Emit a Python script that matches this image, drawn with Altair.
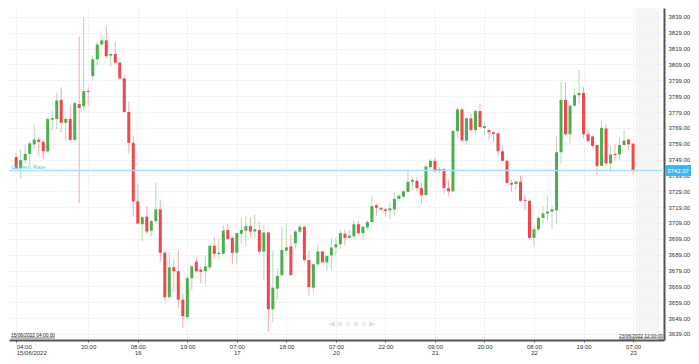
import json
import altair as alt
import pandas as pd

# ---- candle data (hourly candles, index 0..137) ----
open_ = [3750.6, 3743.6, 3748.6, 3752.6, 3758.6, 3761.6, 3760.2, 3754.2, 3774.2, 3774.6,
         3786.6, 3772.2, 3774.6, 3761.4, 3784.0, 3782.6, 3792.2, 3801.6, 3812.2, 3821.6,
         3824.2, 3814.6, 3815.6, 3810.2, 3800.2, 3779.0, 3759.6, 3722.6, 3708.2, 3713.0,
         3704.2, 3710.2, 3717.6, 3690.2, 3662.2, 3681.0, 3678.6, 3660.6, 3649.6, 3674.2,
         3684.6, 3679.6, 3678.6, 3681.0, 3694.6, 3689.4, 3689.6, 3704.6, 3699.6, 3690.2,
         3702.2, 3704.2, 3707.0, 3703.6, 3704.6, 3691.0, 3703.0, 3654.6, 3667.6, 3676.0,
         3691.6, 3694.2, 3696.2, 3703.6, 3706.6, 3685.6, 3668.2, 3683.0, 3691.0, 3684.2,
         3688.6, 3693.6, 3695.6, 3702.2, 3699.6, 3700.6, 3708.2, 3702.6, 3706.2, 3709.6,
         3720.2, 3718.6, 3717.6, 3717.0, 3717.6, 3724.2, 3725.6, 3728.6, 3735.0, 3735.6,
         3731.0, 3726.6, 3744.2, 3748.2, 3742.0, 3743.0, 3731.0, 3729.0, 3767.0, 3780.6,
         3761.0, 3775.0, 3767.6, 3779.6, 3769.0, 3767.6, 3766.2, 3765.6, 3754.2, 3748.2,
         3734.2, 3733.6, 3735.0, 3723.6, 3723.0, 3699.6, 3705.0, 3712.2, 3715.0, 3716.2,
         3717.0, 3753.6, 3786.6, 3765.0, 3783.0, 3789.6, 3791.0, 3765.0, 3763.6, 3758.2,
         3745.0, 3768.6, 3746.6, 3752.6, 3752.2, 3758.2, 3761.6, 3759.0]
high = [3753.0, 3755.6, 3758.2, 3760.6, 3771.0, 3763.0, 3761.6, 3775.6, 3780.2, 3791.2,
        3794.6, 3775.6, 3783.6, 3785.4, 3826.6, 3839.0, 3795.0, 3814.6, 3823.0, 3827.0,
        3833.6, 3816.6, 3823.0, 3811.0, 3801.6, 3785.6, 3763.6, 3733.6, 3713.6, 3719.6,
        3711.0, 3734.2, 3723.6, 3691.6, 3690.6, 3685.6, 3691.6, 3664.6, 3676.6, 3682.6,
        3686.6, 3681.6, 3688.6, 3695.6, 3700.2, 3699.0, 3707.6, 3708.2, 3700.6, 3703.0,
        3712.6, 3713.6, 3712.6, 3714.2, 3709.6, 3708.0, 3703.6, 3691.6, 3680.6, 3706.6,
        3709.0, 3701.6, 3704.6, 3708.0, 3707.0, 3691.6, 3683.6, 3695.6, 3691.6, 3688.6,
        3699.6, 3699.6, 3704.6, 3704.6, 3705.0, 3710.6, 3710.2, 3707.6, 3710.6, 3726.2,
        3721.6, 3719.0, 3718.2, 3722.6, 3728.6, 3727.0, 3729.6, 3742.6, 3737.6, 3737.6,
        3734.6, 3747.0, 3749.6, 3750.2, 3744.2, 3743.6, 3736.6, 3767.6, 3782.2, 3781.6,
        3775.6, 3778.2, 3780.6, 3784.6, 3772.2, 3768.6, 3767.0, 3766.2, 3757.0, 3749.0,
        3736.2, 3736.2, 3739.0, 3727.0, 3723.6, 3707.0, 3713.0, 3719.6, 3725.6, 3720.6,
        3763.0, 3798.2, 3797.6, 3783.6, 3793.6, 3805.6, 3795.0, 3768.2, 3764.2, 3758.6,
        3773.6, 3771.6, 3757.6, 3759.0, 3763.0, 3767.6, 3762.2, 3759.6]
low = [3742.6, 3737.0, 3746.6, 3745.6, 3755.6, 3751.6, 3749.6, 3753.6, 3767.6, 3768.2,
       3766.2, 3760.6, 3761.0, 3761.0, 3721.6, 3779.6, 3783.0, 3799.6, 3808.2, 3821.0,
       3813.0, 3807.6, 3809.0, 3799.6, 3778.6, 3753.0, 3713.0, 3708.2, 3697.6, 3702.2,
       3700.6, 3708.6, 3684.2, 3660.2, 3661.6, 3665.6, 3655.6, 3643.0, 3648.6, 3666.6,
       3677.6, 3670.6, 3669.6, 3679.6, 3686.2, 3685.6, 3689.0, 3698.0, 3683.0, 3683.0,
       3695.6, 3694.6, 3700.2, 3699.6, 3689.0, 3672.6, 3640.2, 3646.6, 3660.6, 3675.6,
       3689.0, 3675.6, 3692.6, 3702.6, 3684.6, 3663.0, 3665.6, 3681.6, 3683.6, 3679.0,
       3679.0, 3688.6, 3692.6, 3695.0, 3699.0, 3698.6, 3701.6, 3698.2, 3704.6, 3709.2,
       3713.6, 3716.6, 3713.0, 3711.6, 3713.6, 3722.6, 3724.6, 3728.2, 3729.6, 3729.0,
       3721.0, 3726.2, 3742.6, 3741.0, 3740.6, 3727.6, 3726.2, 3728.6, 3762.2, 3760.6,
       3758.2, 3766.6, 3764.6, 3768.6, 3764.6, 3761.6, 3760.2, 3751.6, 3747.6, 3733.6,
       3728.6, 3729.6, 3722.2, 3717.0, 3698.6, 3694.2, 3704.2, 3708.6, 3710.6, 3705.0,
       3708.6, 3746.6, 3764.2, 3759.6, 3782.2, 3783.6, 3762.2, 3760.2, 3756.6, 3738.6,
       3744.6, 3745.6, 3741.6, 3748.6, 3748.6, 3757.6, 3755.0, 3739.6]
close = [3743.6, 3748.6, 3752.6, 3759.2, 3761.6, 3760.2, 3754.2, 3774.6, 3775.2, 3786.2,
         3772.2, 3774.6, 3761.4, 3784.6, 3781.6, 3792.2, 3791.6, 3812.2, 3821.6, 3824.2,
         3814.2, 3815.6, 3810.2, 3800.2, 3779.0, 3759.6, 3722.6, 3708.6, 3712.6, 3703.6,
         3710.2, 3717.6, 3690.2, 3662.2, 3681.0, 3678.6, 3660.6, 3650.2, 3674.2, 3681.6,
         3678.6, 3678.2, 3681.6, 3694.6, 3689.6, 3690.2, 3704.2, 3699.0, 3690.2, 3702.6,
         3704.6, 3707.0, 3703.6, 3705.0, 3691.0, 3703.0, 3654.6, 3668.2, 3675.6, 3692.0,
         3693.6, 3676.2, 3703.6, 3706.6, 3685.6, 3668.6, 3683.0, 3691.0, 3684.2, 3688.2,
         3693.6, 3695.6, 3702.6, 3699.6, 3701.0, 3708.2, 3702.6, 3706.6, 3709.6, 3719.6,
         3718.6, 3717.6, 3716.6, 3718.2, 3724.2, 3726.2, 3729.0, 3735.0, 3736.2, 3731.0,
         3726.6, 3744.6, 3748.2, 3741.6, 3743.0, 3731.0, 3729.0, 3767.0, 3780.6, 3761.0,
         3775.0, 3767.6, 3779.6, 3769.6, 3770.0, 3766.2, 3765.2, 3754.2, 3748.2, 3734.2,
         3733.2, 3735.0, 3723.0, 3723.0, 3699.6, 3705.0, 3712.2, 3715.0, 3716.2, 3717.6,
         3753.6, 3786.6, 3765.0, 3783.0, 3789.6, 3791.0, 3765.0, 3760.6, 3757.6, 3745.0,
         3769.0, 3746.6, 3752.2, 3751.8, 3758.2, 3761.0, 3758.6, 3742.07]

# ---- axis text ----
tick_index = [0, 16, 27, 38, 49, 60, 71, 82, 93, 104, 115, 126, 137]
tick_labels = ["04:00|15/06/2022", "20:00", "08:00|16", "19:00", "07:00|17", "18:00",
               "07:00|20", "22:00", "09:00|21", "20:00", "08:00|22", "19:00", "07:00|23"]
y_ticks = [3639, 3649, 3659, 3669, 3679, 3689, 3699, 3709, 3719, 3729, 3739,
           3749, 3759, 3769, 3779, 3789, 3799, 3809, 3819, 3829, 3839]
current_rate = 3742.07
rate_label = "Current Rate"
first_stamp = "15/06/2022 04:00:00"
last_stamp = "23/06/2022 12:00:00"
nav_icons = "◀    ⊕    ⊖    ⊕    ⊖    ▶"

W, H = 655, 332
X_END = 142.76
FONT = "Liberation Sans"
GREEN, RED = "#4cae4c", "#f2464a"
GREEN_W, RED_W = "#b3dcb3", "#f6adad"
GRID = "#f3f3f3"

n = len(close)
df = pd.DataFrame({"i": list(range(n)), "open": open_, "high": high, "low": low, "close": close})

xs = alt.Scale(domain=[-0.49, X_END], nice=False, zero=False)
ys = alt.Scale(domain=[3635.2, 3844.6], nice=False, zero=False)

label_expr = "split(%s[indexof(%s, datum.value)], '|')" % (json.dumps(tick_labels), json.dumps(tick_index))

xaxis = alt.Axis(values=tick_index, labelExpr=label_expr, orient="bottom", title=None,
                 grid=True, gridColor=GRID, gridWidth=1,
                 domainColor="#555555", domainWidth=2, tickColor="#555555", tickSize=2,
                 labelFont=FONT, labelFontSize=6, labelColor="#333333", labelPadding=1,
                 labelLineHeight=6, labelOverlap=False, labelBound=False, labelFlush=False,
                 labelAlign={"condition": {"test": "datum.value == 0", "value": "left"}, "value": "center"})
yaxis = alt.Axis(values=y_ticks, format=".2f", orient="right", title=None,
                 grid=True, gridColor=GRID, gridWidth=1,
                 domainColor="#555555", domainWidth=2, ticks=False, labelPadding=4,
                 labelFont=FONT, labelFontSize=6, labelColor="#333333", labelOverlap=False)

band = alt.Chart(pd.DataFrame({"x0": [n - 1 + 0.55], "x1": [X_END]})).mark_rect(
    color="#f3f3f3", opacity=0.8).encode(
    x=alt.X("x0:Q", scale=xs, axis=xaxis), x2="x1:Q")

up = alt.datum.close >= alt.datum.open
base = alt.Chart(df).encode(x=alt.X("i:Q", scale=xs, axis=xaxis))
wick = base.mark_rule(strokeWidth=1).encode(
    y=alt.Y("low:Q", scale=ys, axis=yaxis), y2="high:Q",
    color=alt.condition(up, alt.value(GREEN_W), alt.value(RED_W)))
body = base.mark_bar(size=3).encode(
    y=alt.Y("open:Q", scale=ys, axis=yaxis), y2="close:Q",
    color=alt.condition(up, alt.value(GREEN), alt.value(RED)))

rate_df = pd.DataFrame({"rate": [current_rate]})
rate_base = alt.Chart(rate_df)
rate_line = rate_base.mark_rule(color="#a9e0f4", strokeWidth=1.5).encode(
    y=alt.Y("rate:Q", scale=ys, axis=yaxis))
rate_text = rate_base.mark_text(align="left", baseline="bottom", dy=-1, fontSize=6,
                                font=FONT, color="#5cc6ec").encode(
    x=alt.value(2), y=alt.Y("rate:Q", scale=ys, axis=yaxis), text=alt.value(rate_label))
rate_box = rate_base.mark_rect(color="#35b9ef", yOffset=-5.5, y2Offset=5.5).encode(
    x=alt.value(W + 1), x2=alt.value(W + 27),
    y=alt.Y("rate:Q", scale=ys, axis=yaxis), y2="rate:Q")
rate_box_text = rate_base.mark_text(align="center", baseline="middle", fontSize=6,
                                    font=FONT, color="white").encode(
    x=alt.value(W + 14), y=alt.Y("rate:Q", scale=ys, axis=yaxis),
    text=alt.Text("rate:Q", format=".2f"))

stamp_l = alt.Chart(pd.DataFrame({"t": [first_stamp]})).mark_text(
    align="left", baseline="bottom", fontSize=4.8, font=FONT, color="#222222").encode(
    x=alt.value(2), y=alt.value(H - 2.5), text="t:N")
stamp_r = alt.Chart(pd.DataFrame({"t": [last_stamp]})).mark_text(
    align="right", baseline="bottom", fontSize=4.8, font=FONT, color="#222222").encode(
    x=alt.value(W - 1), y=alt.value(H - 1.5), text="t:N")
ul_l = alt.Chart(pd.DataFrame({"t": [first_stamp]})).mark_rule(color="#222222", strokeWidth=0.6).encode(
    x=alt.value(2), x2=alt.value(46), y=alt.value(H - 2))
ul_r = alt.Chart(pd.DataFrame({"t": [last_stamp]})).mark_rule(color="#222222", strokeWidth=0.6).encode(
    x=alt.value(W - 45), x2=alt.value(W - 1), y=alt.value(H - 1))
nav = alt.Chart(pd.DataFrame({"t": [nav_icons]})).mark_text(
    align="center", baseline="middle", fontSize=7, font="DejaVu Sans", color="#dddddd").encode(
    x=alt.value(343), y=alt.value(316), text="t:N")

chart = alt.layer(
    band, wick, body, rate_line, rate_text, rate_box, rate_box_text,
    nav, stamp_l, stamp_r, ul_l, ul_r
).properties(width=W, height=H, padding=0, background="white").configure_view(stroke=None)

chart.save("out.html", embed_options={"renderer": "svg", "actions": False})
